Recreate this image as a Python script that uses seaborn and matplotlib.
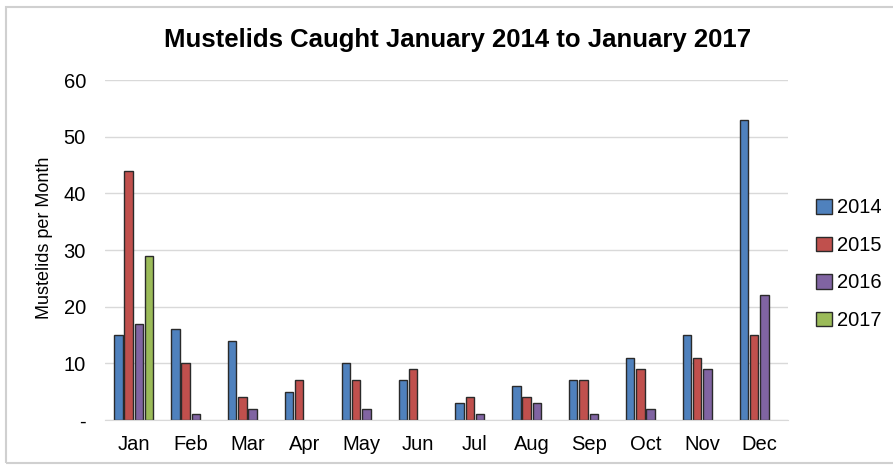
import pandas as pd
import seaborn as sns
import matplotlib.pyplot as plt
from matplotlib.patches import Rectangle

# data
months = ['Jan', 'Feb', 'Mar', 'Apr', 'May', 'Jun', 'Jul', 'Aug', 'Sep', 'Oct', 'Nov', 'Dec']
y2014 = [15, 16, 14, 5, 10, 7, 3, 6, 7, 11, 15, 53]
y2015 = [44, 10, 4, 7, 7, 9, 4, 4, 7, 9, 11, 15]
y2016 = [17, 1, 2, 0, 2, 0, 1, 3, 1, 2, 9, 22]
y2017 = [29]
years = ['2014', '2015', '2016', '2017']
colours = ['#4F81BD', '#C0504D', '#8064A2', '#9BBB59']

## long form table (zero months draw no bar)
rows = []
for yr, vals in zip(years, [y2014, y2015, y2016, y2017]):
    for m, v in zip(months, vals):
        if v > 0:
            rows.append({'month': m, 'year': yr, 'count': v})
df = pd.DataFrame(rows)

sns.set_style('white')
plt.rcParams['font.family'] = ['Liberation Sans', 'DejaVu Sans']
plt.rcParams['text.color'] = 'black'

fig = plt.figure(figsize=(8.93, 4.66), dpi=100)
ax = fig.add_axes([0.118, 0.099, 0.764, 0.729])

sns.barplot(data=df, x='month', y='count', hue='year', order=months, hue_order=years,
            palette=colours, saturation=1, width=0.72, gap=0.18, errorbar=None,
            edgecolor='#2a2a2a', linewidth=1.0, ax=ax)

ax.set_ylim(0, 60)
ax.set_yticks(range(0, 61, 10))
ax.set_yticklabels(['-'] + [str(v) for v in range(10, 61, 10)])
ax.set_xlim(-0.5, 11.5)
ax.yaxis.grid(True, color='#d9d9d9', linewidth=1)
ax.set_axisbelow(True)
for s in ['top', 'right', 'left']:
    ax.spines[s].set_visible(False)
ax.spines['bottom'].set_color('#d9d9d9')
ax.tick_params(axis='both', length=0, labelsize=14.5, colors='black')
ax.tick_params(axis='x', pad=11)
ax.tick_params(axis='y', pad=14)
ax.set_xlabel('')
ax.set_ylabel('Mustelids per Month', fontsize=13, color='black')
ax.yaxis.set_label_coords(-0.077, 0.535)

fig.suptitle('Mustelids Caught January 2014 to January 2017', x=0.512, y=0.94,
             fontsize=18.5, fontweight='bold', color='black')

leg = ax.legend(loc='center left', bbox_to_anchor=(0.894, 0.433), bbox_transform=fig.transFigure,
                frameon=False, fontsize=14.5, handlelength=0.75, handleheight=0.75,
                handletextpad=0.25, labelspacing=0.92)

## outer frame
fig.patches.append(Rectangle((0.007, 0.006), 1.2, 0.978, transform=fig.transFigure,
                             fill=False, edgecolor='#d0d0d0', linewidth=1.5))

fig.savefig('out.png', dpi=100)
